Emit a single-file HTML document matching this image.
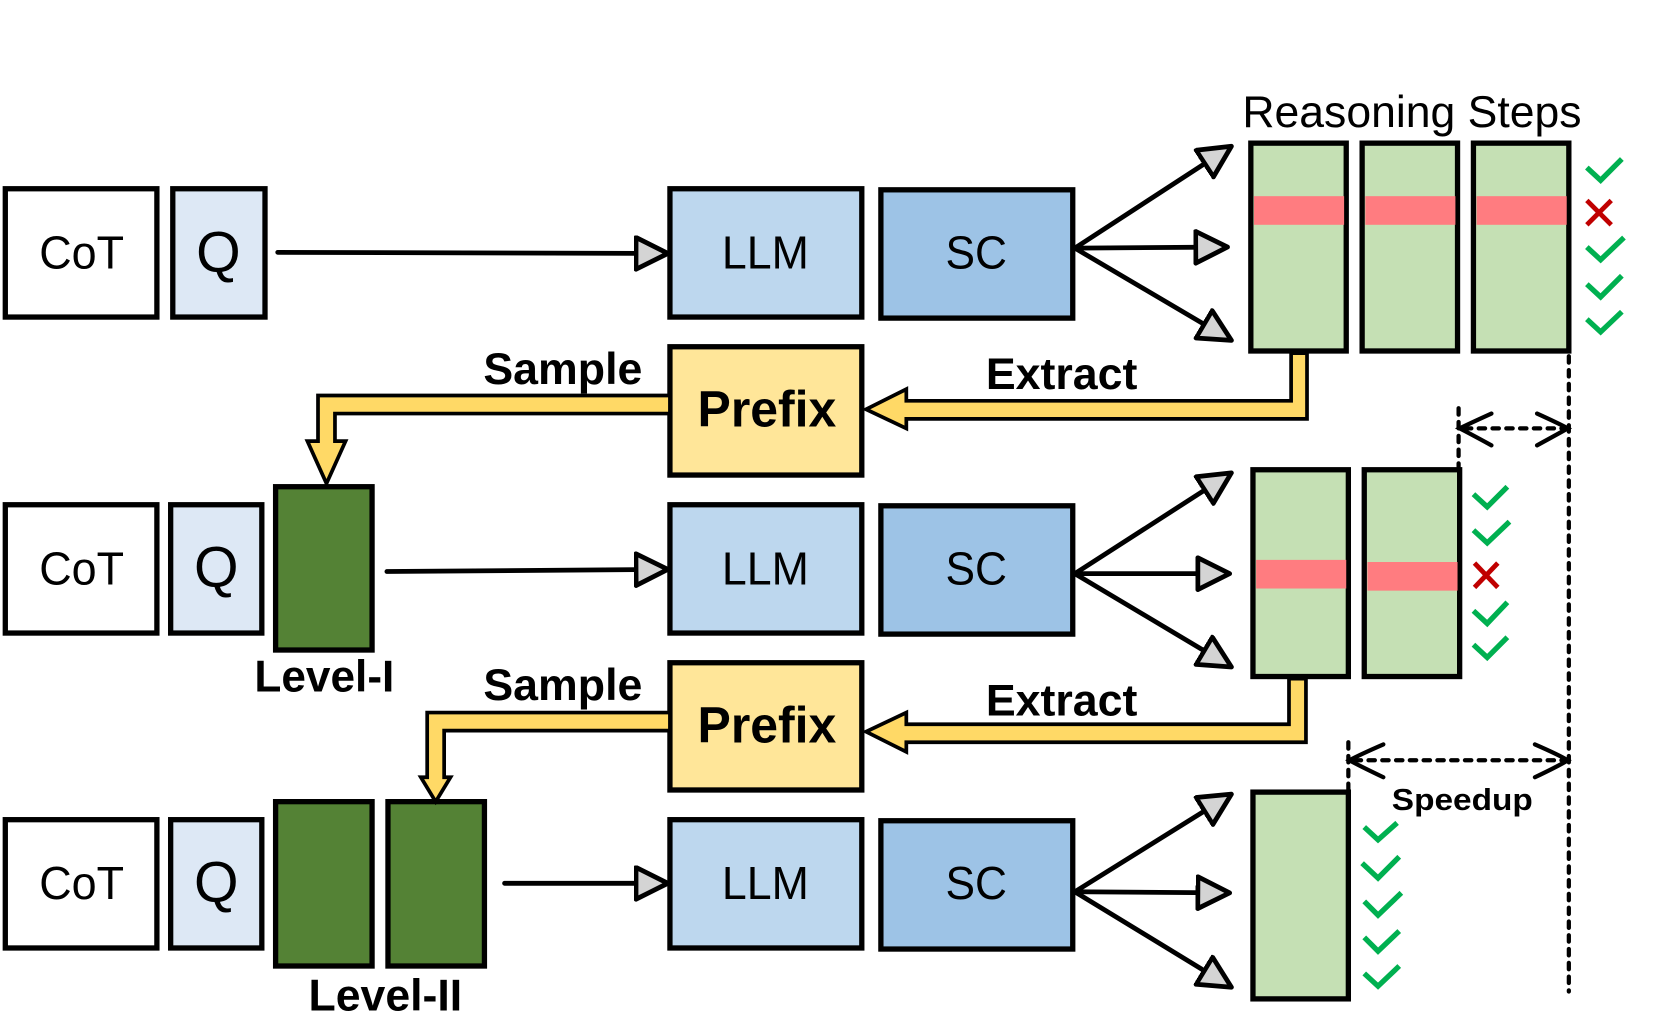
<!DOCTYPE html>
<html><head><meta charset="utf-8"><style>html,body{margin:0;padding:0;background:#fff}svg{display:block}</style></head>
<body>
<svg width="1660" height="1036" viewBox="0 0 1566 977" preserveAspectRatio="none" xmlns="http://www.w3.org/2000/svg" font-family="Liberation Sans, Arial, sans-serif">
<defs>
<marker id="tri" markerUnits="userSpaceOnUse" markerWidth="50" markerHeight="50" refX="30" refY="17" orient="auto">
<path d="M2,2 L32,17 L2,32 Z" fill="#d4d4d4" stroke="#000" stroke-width="4.5" stroke-linejoin="round"/>
</marker>
</defs>
<g stroke="#000" stroke-width="5">
<rect x="5" y="178" width="143" height="121" fill="#fff"/>
<rect x="163" y="178" width="87" height="121" fill="#dde8f5"/>
<rect x="632" y="178" width="181" height="121" fill="#bdd7ee"/>
<rect x="831" y="179" width="181" height="121" fill="#9dc3e6"/>
<rect x="5" y="476" width="143" height="121" fill="#fff"/>
<rect x="161" y="476" width="86" height="121" fill="#dde8f5"/>
<rect x="260" y="459" width="91" height="154" fill="#548235"/>
<rect x="632" y="476" width="181" height="121" fill="#bdd7ee"/>
<rect x="831" y="477" width="181" height="121" fill="#9dc3e6"/>
<rect x="5" y="773" width="143" height="121" fill="#fff"/>
<rect x="161" y="773" width="86" height="121" fill="#dde8f5"/>
<rect x="260" y="756" width="91" height="155" fill="#548235"/>
<rect x="366" y="756" width="91" height="155" fill="#548235"/>
<rect x="632" y="773" width="181" height="121" fill="#bdd7ee"/>
<rect x="831" y="774" width="181" height="121" fill="#9dc3e6"/>
<rect x="632" y="327" width="181" height="121" fill="#ffe699"/>
<rect x="632" y="625" width="181" height="120" fill="#ffe699"/>
<rect x="1180" y="135" width="90" height="196" fill="#c5e0b4"/>
<rect x="1285" y="135" width="90" height="196" fill="#c5e0b4"/>
<rect x="1390" y="135" width="90" height="196" fill="#c5e0b4"/>
<rect x="1182" y="443" width="90" height="195" fill="#c5e0b4"/>
<rect x="1287" y="443" width="90" height="195" fill="#c5e0b4"/>
<rect x="1182" y="747" width="90" height="195" fill="#c5e0b4"/>
</g>
<g fill="#ff7c80">
<rect x="1183" y="185" width="85" height="27"/>
<rect x="1288" y="185" width="85" height="27"/>
<rect x="1393" y="185" width="85" height="27"/>
<rect x="1185" y="528" width="85" height="27"/>
<rect x="1290" y="530" width="85" height="27"/>
</g>
<g stroke="#000" stroke-width="4.5" fill="none" marker-end="url(#tri)" stroke-linecap="round">
<line x1="262" y1="238" x2="628" y2="239"/>
<line x1="365" y1="539" x2="628" y2="537"/>
<line x1="476" y1="833" x2="628" y2="833"/>
<line x1="1014" y1="234" x2="1160" y2="139"/>
<line x1="1014" y1="234" x2="1156" y2="233"/>
<line x1="1014" y1="234" x2="1160" y2="320"/>
<line x1="1014" y1="541" x2="1160" y2="447"/>
<line x1="1014" y1="541" x2="1158" y2="541"/>
<line x1="1014" y1="541" x2="1160" y2="628"/>
<line x1="1014" y1="841" x2="1160" y2="750"/>
<line x1="1014" y1="841" x2="1158" y2="842"/>
<line x1="1014" y1="841" x2="1160" y2="930"/>
</g>
<g fill="#ffd966" stroke="#000" stroke-width="3.5" stroke-linejoin="miter">
<polygon points="1218,333 1218,378 855,378 855,367 817,386 855,404 855,395 1233,395 1233,333"/>
<polygon points="632,373 300,373 300,416 290,416 308,456 326,416 316,416 316,390 632,390"/>
<polygon points="1216,640 1216,683 855,683 855,672 817,690 855,709 855,700 1232,700 1232,640"/>
<polygon points="632,672 403,672 403,733 397,733 411,756 425,733 419,733 419,689 632,689"/>
</g>
<g stroke="#000" stroke-width="4" fill="none" stroke-dasharray="6,7" stroke-linecap="round">
<line x1="1480" y1="336" x2="1480" y2="935"/>
<line x1="1376" y1="385" x2="1376" y2="440"/>
<line x1="1272" y1="700" x2="1272" y2="745"/>
<line x1="1382" y1="404" x2="1474" y2="404"/>
<line x1="1278" y1="717" x2="1474" y2="717"/>
</g>
<g stroke="#000" stroke-width="4" fill="none" stroke-linecap="round">
<path d="M1407,390 Q1385,400 1377,404 Q1385,408 1407,420"/>
<path d="M1450,390 Q1472,400 1479,404 Q1472,408 1450,420"/>
<path d="M1305,702 Q1282,712 1273,717 Q1282,722 1305,733"/>
<path d="M1448,702 Q1471,712 1479,717 Q1471,722 1448,733"/>
</g>
<g stroke="#00b050" stroke-width="5" fill="none">
<polyline points="1497,158 1510,170 1530,150"/>
<polyline points="1497,233 1510,245 1532,224"/>
<polyline points="1497,268 1510,280 1530,260"/>
<polyline points="1497,301 1510,313 1530,294"/>
<polyline points="1390,466 1403,478 1422,459"/>
<polyline points="1390,500 1403,512 1424,492"/>
<polyline points="1390,576 1403,588 1422,568"/>
<polyline points="1390,608 1403,620 1422,601"/>
<polyline points="1287,780 1300,792 1318,776"/>
<polyline points="1285,814 1300,828 1320,808"/>
<polyline points="1287,850 1300,863 1322,842"/>
<polyline points="1287,884 1300,897 1320,878"/>
<polyline points="1287,918 1300,930 1320,911"/>
</g>
<g stroke="#c00000" stroke-width="4.5">
<line x1="1497" y1="189" x2="1520" y2="212"/><line x1="1520" y1="189" x2="1497" y2="212"/>
<line x1="1391" y1="531" x2="1413" y2="554"/><line x1="1413" y1="531" x2="1391" y2="554"/>
</g>
<g fill="#000" font-size="44" text-anchor="middle">
<text x="77" y="253" textLength="80" lengthAdjust="spacingAndGlyphs">CoT</text>
<text x="206" y="256" font-size="54">Q</text>
<text x="722" y="253" textLength="82" lengthAdjust="spacingAndGlyphs">LLM</text>
<text x="921" y="253" textLength="58" lengthAdjust="spacingAndGlyphs">SC</text>
<text x="77" y="551" textLength="80" lengthAdjust="spacingAndGlyphs">CoT</text>
<text x="204" y="553" font-size="54">Q</text>
<text x="722" y="551" textLength="82" lengthAdjust="spacingAndGlyphs">LLM</text>
<text x="921" y="551" textLength="58" lengthAdjust="spacingAndGlyphs">SC</text>
<text x="77" y="848" textLength="80" lengthAdjust="spacingAndGlyphs">CoT</text>
<text x="204" y="850" font-size="54">Q</text>
<text x="722" y="848" textLength="82" lengthAdjust="spacingAndGlyphs">LLM</text>
<text x="921" y="848" textLength="58" lengthAdjust="spacingAndGlyphs">SC</text>
</g>
<text x="1172" y="120" font-size="42" textLength="320" lengthAdjust="spacingAndGlyphs">Reasoning Steps</text>
<g fill="#000" font-weight="bold">
<text x="658" y="402" font-size="48" textLength="131" lengthAdjust="spacingAndGlyphs">Prefix</text>
<text x="658" y="700" font-size="48" textLength="131" lengthAdjust="spacingAndGlyphs">Prefix</text>
<text x="456" y="362" font-size="42" textLength="150" lengthAdjust="spacingAndGlyphs">Sample</text>
<text x="456" y="660" font-size="42" textLength="150" lengthAdjust="spacingAndGlyphs">Sample</text>
<text x="930" y="367" font-size="42" textLength="143" lengthAdjust="spacingAndGlyphs">Extract</text>
<text x="930" y="675" font-size="42" textLength="143" lengthAdjust="spacingAndGlyphs">Extract</text>
<text x="240" y="652" font-size="42" textLength="132" lengthAdjust="spacingAndGlyphs">Level-I</text>
<text x="291" y="953" font-size="42" textLength="145" lengthAdjust="spacingAndGlyphs">Level-II</text>
<text x="1313" y="764" font-size="29" textLength="133" lengthAdjust="spacingAndGlyphs">Speedup</text>
</g>
</svg>
</body></html>
